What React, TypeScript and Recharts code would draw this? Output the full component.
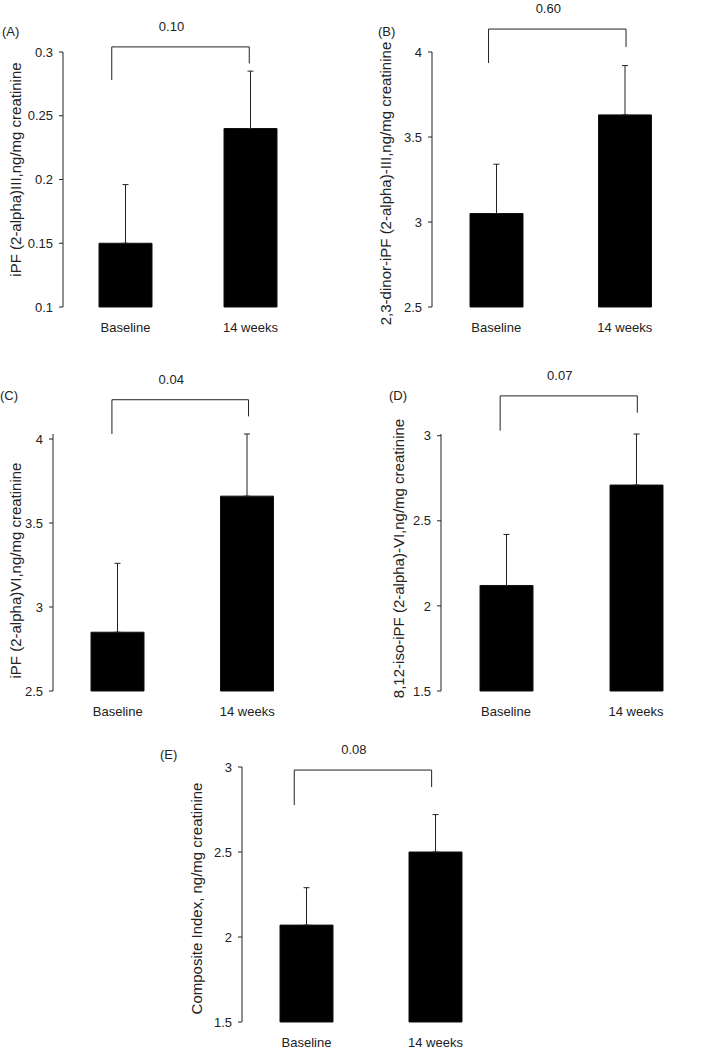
// Five-panel bar chart: isoprostane levels, baseline vs 14 weeks
import { BarChart, Bar, XAxis, YAxis, ErrorBar, ReferenceLine } from 'recharts';

const groups = ['Baseline', '14 weeks'];

// (A) iPF (2-alpha)III
const meansA = [0.15, 0.24];
const errA = [0.046, 0.045];
const ticksA = [0.1, 0.15, 0.2, 0.25, 0.3];
const pA = '0.10';

// (B) 2,3-dinor-iPF (2-alpha)-III
const meansB = [3.05, 3.63];
const errB = [0.29, 0.29];
const ticksB = [2.5, 3, 3.5, 4];
const pB = '0.60';

// (C) iPF (2-alpha)VI
const meansC = [2.85, 3.66];
const errC = [0.41, 0.37];
const ticksC = [2.5, 3, 3.5, 4];
const pC = '0.04';

// (D) 8,12-iso-iPF (2-alpha)-VI
const meansD = [2.12, 2.71];
const errD = [0.3, 0.3];
const ticksD = [1.5, 2, 2.5, 3];
const pD = '0.07';

// (E) Composite index
const meansE = [2.07, 2.5];
const errE = [0.22, 0.22];
const ticksE = [1.5, 2, 2.5, 3];
const pE = '0.08';

const FONT = '"Liberation Sans", Arial, sans-serif';
const INK = '#222';
const LABEL_H = 24;

type Rect = { left: number; top: number; right: number; bottom: number };
type Bracket = { left: number; right: number; top: number; leftEnd: number; rightEnd: number };

interface PanelProps {
  yLabel: string;
  means: number[];
  errs: number[];
  ticks: number[];
  pValue: string;
  bracket: Bracket;
  box: { left: number; top: number; width: number; height: number };
  plot: Rect;
  labelX: number;
  labelDy: number;
}

function Panel({ yLabel, means, errs, ticks, pValue, bracket, box, plot, labelX, labelDy }: PanelProps) {
  const data = groups.map((g, i) => ({ x: i + 0.5, group: g, mean: means[i], err: [0, errs[i]] }));
  const yDomain = [ticks[0], ticks[ticks.length - 1]];
  const margin = {
    top: plot.top - box.top,
    right: box.left + box.width - plot.right,
    bottom: box.top + box.height - plot.bottom - LABEL_H,
    left: 0,
  };
  const cx = labelX - box.left;
  const cy = (plot.top + plot.bottom) / 2 - box.top + labelDy;

  return (
    <div style={{ position: 'absolute', left: box.left, top: box.top }}>
      <BarChart width={box.width} height={box.height} data={data} margin={margin}>
        <XAxis
          dataKey="x"
          type="number"
          domain={[0, 2]}
          ticks={[0, 1, 2]}
          height={0}
          tickSize={5}
          tickFormatter={() => ''}
          stroke={INK}
        />
        <XAxis
          xAxisId="labels"
          dataKey="x"
          type="number"
          domain={[0, 2]}
          ticks={[0.5, 1.5]}
          tickFormatter={(v: number) => groups[Math.floor(v)]}
          axisLine={false}
          tickLine={false}
          tickSize={0}
          tickMargin={16}
          height={LABEL_H}
          tick={{ fontSize: 13, fill: INK, fontFamily: FONT }}
        />
        <YAxis
          width={plot.left - box.left}
          type="number"
          domain={() => yDomain}
          ticks={ticks}
          interval={0}
          tickSize={4}
          tickMargin={6}
          stroke={INK}
          tick={{ fontSize: 13, fill: INK, fontFamily: FONT }}
          label={{
            content: () => (
              <text
                x={cx}
                y={cy}
                transform={`rotate(-90 ${cx} ${cy})`}
                textAnchor="middle"
                dominantBaseline="central"
                fontSize={15}
                fontFamily={FONT}
                fill={INK}
              >
                {yLabel}
              </text>
            ),
          }}
        />
        <Bar dataKey="mean" fill="#000" stroke="#111" barSize={53} isAnimationActive={false}>
          <ErrorBar dataKey="err" direction="y" width={3} stroke={INK} strokeWidth={1} isAnimationActive={false} />
        </Bar>

        {/* significance bracket */}
        <ReferenceLine
          segment={[{ x: bracket.left, y: bracket.leftEnd }, { x: bracket.left, y: bracket.top }]}
          stroke={INK}
          ifOverflow="visible"
        />
        <ReferenceLine
          segment={[{ x: bracket.left, y: bracket.top }, { x: bracket.right, y: bracket.top }]}
          stroke={INK}
          ifOverflow="visible"
          label={{ value: pValue, position: 'top', offset: 16, dx: -9, fontSize: 13, fill: INK, fontFamily: FONT }}
        />
        <ReferenceLine
          segment={[{ x: bracket.right, y: bracket.top }, { x: bracket.right, y: bracket.rightEnd }]}
          stroke={INK}
          ifOverflow="visible"
        />
      </BarChart>
    </div>
  );
}

const letterStyle = { fontSize: 13, fontFamily: FONT, fill: INK };

export default function App() {
  return (
    <div style={{ position: 'absolute', left: 0, top: 0, width: 702, height: 1050, background: '#fff', overflow: 'hidden' }}>
      <Panel
        yLabel="iPF  (2-alpha)III,ng/mg creatinine"
        means={meansA}
        errs={errA}
        ticks={ticksA}
        pValue={pA}
        bracket={{ left: 0.39, right: 1.49, top: 0.304, leftEnd: 0.278, rightEnd: 0.291 }}
        box={{ left: 0, top: 0, width: 351, height: 345 }}
        plot={{ left: 63, right: 313, top: 52, bottom: 307 }}
        labelX={15}
        labelDy={-10}
      />
      <Panel
        yLabel="2,3-dinor-iPF  (2-alpha)-III,ng/mg creatinine"
        means={meansB}
        errs={errB}
        ticks={ticksB}
        pValue={pB}
        bracket={{ left: 0.44, right: 1.51, top: 4.135, leftEnd: 3.935, rightEnd: 4.03 }}
        box={{ left: 351, top: 0, width: 351, height: 345 }}
        plot={{ left: 432, right: 689, top: 52, bottom: 307 }}
        labelX={385}
        labelDy={4}
      />
      <Panel
        yLabel="iPF  (2-alpha)VI,ng/mg creatinine"
        means={meansC}
        errs={errC}
        ticks={ticksC}
        pValue={pC}
        bracket={{ left: 0.455, right: 1.51, top: 4.234, leftEnd: 4.03, rightEnd: 4.135 }}
        box={{ left: 0, top: 345, width: 351, height: 380 }}
        plot={{ left: 53, right: 312, top: 434, bottom: 691 }}
        labelX={15}
        labelDy={8}
      />
      <Panel
        yLabel="8,12-iso-iPF  (2-alpha)-VI,ng/mg creatinine"
        means={meansD}
        errs={errD}
        ticks={ticksD}
        pValue={pD}
        bracket={{ left: 0.455, right: 1.51, top: 3.234, leftEnd: 3.03, rightEnd: 3.135 }}
        box={{ left: 351, top: 345, width: 351, height: 380 }}
        plot={{ left: 441, right: 701, top: 434, bottom: 691 }}
        labelX={398}
        labelDy={-4}
      />
      <Panel
        yLabel="Composite Index, ng/mg creatinine"
        means={meansE}
        errs={errE}
        ticks={ticksE}
        pValue={pE}
        bracket={{ left: 0.405, right: 1.47, top: 2.982, leftEnd: 2.776, rightEnd: 2.882 }}
        box={{ left: 150, top: 725, width: 400, height: 325 }}
        plot={{ left: 242, right: 500, top: 767, bottom: 1022 }}
        labelX={196}
        labelDy={4}
      />
      <svg width={702} height={1050} style={{ position: 'absolute', left: 0, top: 0, pointerEvents: 'none' }}>
        <text x={2} y={36} {...letterStyle}>(A)</text>
        <text x={378} y={36} {...letterStyle}>(B)</text>
        <text x={0} y={400} {...letterStyle}>(C)</text>
        <text x={389} y={400} {...letterStyle}>(D)</text>
        <text x={160} y={759} {...letterStyle}>(E)</text>
      </svg>
    </div>
  );
}
